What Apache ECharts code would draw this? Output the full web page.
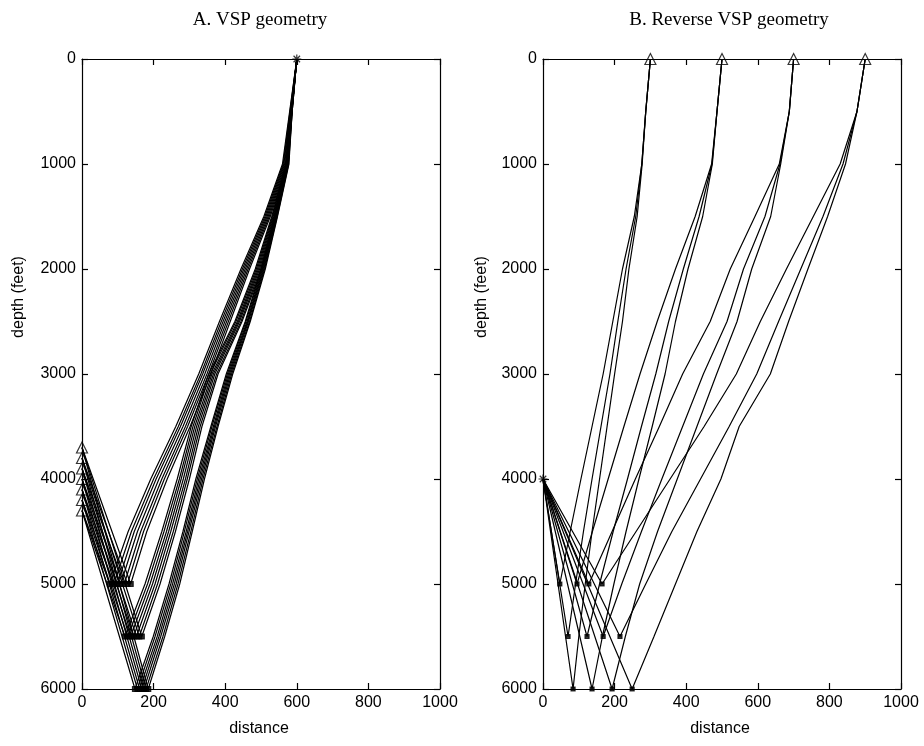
<!DOCTYPE html>
<html>
<head>
<meta charset="utf-8">
<script src="https://cdn.jsdelivr.net/npm/echarts@6/dist/echarts.min.js"></script>
<style>html,body{margin:0;padding:0;background:#fff}#c{width:924px;height:746px}</style>
</head>
<body>
<div id="c"></div>
<script>
// ---------- data ----------
const depthNodes = [0, 500, 1000, 1500, 2000, 2500, 3000, 3500, 4000, 4500, 5000, 5500, 6000];
const xTicks = [0, 200, 400, 600, 800, 1000];
const yTicks = [0, 1000, 2000, 3000, 4000, 5000, 6000];

// Panel A: VSP geometry (surface source, downhole receivers)
const aSourceX = 600;
const aRecvDepths = [3700, 3800, 3900, 4000, 4100, 4200, 4300];
// downgoing ray x at depthNodes, last value = reflection point
const aDown5000 = [
  [600, 586, 572, 526, 468, 414, 360, 302, 238, 181, 136],
  [600, 585, 570, 523, 464, 409, 354, 295, 230, 172, 127],
  [600, 584, 568, 520, 460, 404, 349, 289, 223, 164, 118],
  [600, 583, 566, 517, 456, 399, 343, 282, 215, 155, 108],
  [600, 582, 564, 514, 452, 394, 337, 275, 207, 146, 99],
  [600, 581, 562, 511, 448, 389, 332, 269, 200, 138, 89],
  [600, 580, 560, 508, 444, 384, 326, 262, 192, 129, 78]
];
const aDown5500 = [
  [600, 587, 576, 542, 502, 447, 380, 335, 300, 261, 218, 167],
  [600, 586, 575, 540, 499, 444, 376, 330, 294, 255, 211, 160],
  [600, 586, 574, 538, 496, 440, 371, 325, 289, 248, 204, 152],
  [600, 585, 573, 536, 493, 437, 367, 320, 283, 242, 197, 144],
  [600, 584, 572, 534, 490, 434, 363, 315, 277, 236, 190, 136],
  [600, 584, 571, 532, 487, 430, 358, 310, 272, 229, 183, 128],
  [600, 583, 570, 530, 484, 427, 354, 305, 266, 223, 176, 120]
];
const aDown6000 = [
  [600, 587, 578, 546, 512, 470, 421, 380, 342, 308, 273, 231, 185],
  [600, 587, 577, 545, 510, 468, 418, 377, 338, 304, 268, 226, 179],
  [600, 586, 576, 543, 508, 465, 415, 373, 334, 299, 263, 220, 173],
  [600, 586, 575, 542, 506, 463, 412, 370, 330, 295, 258, 215, 167],
  [600, 586, 574, 541, 504, 461, 409, 367, 326, 291, 253, 210, 161],
  [600, 585, 573, 539, 502, 458, 406, 363, 322, 286, 248, 204, 155],
  [600, 585, 572, 538, 500, 456, 403, 360, 318, 282, 243, 199, 148]
];

// Panel B: Reverse VSP geometry (surface sources, downhole receiver)
const bSourceX = [300, 500, 700, 900];
const bRecvDepth = 4000;
const bDown5000 = [
  [300, 287, 276, 255, 222, 195, 168, 137, 106, 76, 47],
  [500, 486, 471, 425, 370, 319, 271, 226, 182, 138, 95],
  [700, 688, 660, 592, 523, 467, 390, 325, 258, 193, 128],
  [900, 877, 830, 755, 680, 607, 540, 450, 355, 260, 165]
];
const bDown5500 = [
  [300, 287, 276, 259, 232, 209, 187, 162, 137, 113, 91, 70],
  [500, 486, 472, 436, 392, 351, 315, 275, 236, 196, 158, 123],
  [700, 688, 662, 620, 560, 514, 448, 390, 332, 275, 220, 168],
  [900, 877, 838, 782, 720, 658, 597, 520, 440, 360, 287, 215]
];
const bDown6000 = [
  [300, 287, 277, 263, 240, 222, 200, 179, 158, 137, 118, 100, 84],
  [500, 486, 473, 446, 405, 370, 341, 305, 268, 232, 198, 166, 137],
  [700, 688, 664, 636, 583, 542, 485, 430, 375, 320, 270, 230, 193],
  [900, 877, 845, 795, 740, 686, 635, 548, 497, 430, 370, 310, 249]
];

// ---------- build ----------
const series = [];
const lineStyle = { color: '#000', width: 1.2 };
function addRay(xi, yi, down, recvX, recvD) {
  const pts = down.map((x, k) => [x, depthNodes[k]]);
  pts.push([recvX, recvD]);
  series.push({ type: 'line', xAxisIndex: xi, yAxisIndex: yi, data: pts, symbol: 'none',
    lineStyle: lineStyle, silent: true, animation: false, z: 2 });
}
const aRefl = [], bRefl = [];
[aDown5000, aDown5500, aDown6000].forEach(group => {
  group.forEach((row, i) => {
    addRay(0, 0, row, 0, aRecvDepths[i]);
    aRefl.push([row[row.length - 1], depthNodes[row.length - 1]]);
  });
});
[bDown5000, bDown5500, bDown6000].forEach(group => {
  group.forEach(row => {
    addRay(2, 2, row, 0, bRecvDepth);
    bRefl.push([row[row.length - 1], depthNodes[row.length - 1]]);
  });
});
const star = 'path://M0,-5L0,5M-5,0L5,0M-3.6,-3.6L3.6,3.6M-3.6,3.6L3.6,-3.6';
function scatter(xi, yi, data, symbol, size, fill) {
  series.push({ type: 'scatter', xAxisIndex: xi, yAxisIndex: yi, data: data, symbol: symbol,
    symbolSize: size, clip: false, silent: true, animation: false, z: 5,
    itemStyle: { color: fill, borderColor: '#000', borderWidth: 1.2 } });
}
scatter(0, 0, aRefl, 'rect', 5, '#000');
scatter(2, 2, bRefl, 'rect', 4, '#000');
scatter(0, 0, aRecvDepths.map(d => [0, d]), 'triangle', 11, 'rgba(255,255,255,0)');
scatter(0, 0, [[aSourceX, 0]], star, 9, 'rgba(0,0,0,0)');
scatter(2, 2, bSourceX.map(x => [x, 0]), 'triangle', 11, 'rgba(255,255,255,0)');
scatter(2, 2, [[0, bRecvDepth]], star, 9, 'rgba(0,0,0,0)');

const sans = 'Liberation Sans, Arial, sans-serif';
const font = { fontFamily: sans, fontSize: 16, color: '#000' };
function xAx(grid, pos, labels) {
  return { type: 'value', gridIndex: grid, position: pos, min: 0, max: 1000, interval: 200,
    axisLine: { show: true, onZero: false, lineStyle: { color: '#000', width: 1.2 } },
    axisTick: { show: true, inside: true, length: 6, lineStyle: { color: '#000', width: 1.2 } },
    axisLabel: { show: labels, margin: 6, formatter: v => (xTicks.includes(v) ? String(v) : ''), ...font },
    splitLine: { show: false } };
}
function yAx(grid, pos, labels) {
  return { type: 'value', gridIndex: grid, position: pos, min: 0, max: 6000, interval: 1000, inverse: true,
    axisLine: { show: true, onZero: false, lineStyle: { color: '#000', width: 1.2 } },
    axisTick: { show: true, inside: true, length: 6, lineStyle: { color: '#000', width: 1.2 } },
    axisLabel: { show: labels, margin: 6, formatter: v => (yTicks.includes(v) ? String(v) : ''), ...font },
    splitLine: { show: false } };
}
const titleFont = '19px Liberation Serif, Times New Roman, serif';
const nameFont = '16px ' + sans;
const chart = echarts.init(document.getElementById('c'), null, { renderer: 'canvas' });
chart.setOption({
  backgroundColor: '#fff',
  animation: false,
  grid: [
    { left: 82, right: 484, top: 59, bottom: 57 },
    { left: 543, right: 23, top: 59, bottom: 57 }
  ],
  xAxis: [xAx(0, 'bottom', true), xAx(0, 'top', false), xAx(1, 'bottom', true), xAx(1, 'top', false)],
  yAxis: [yAx(0, 'left', true), yAx(0, 'right', false), yAx(1, 'left', true), yAx(1, 'right', false)],
  graphic: [
    { type: 'text', x: 260, y: 20, style: { text: 'A. VSP geometry', textAlign: 'center', textVerticalAlign: 'middle', font: titleFont, fill: '#000' } },
    { type: 'text', x: 729, y: 20, style: { text: 'B. Reverse VSP geometry', textAlign: 'center', textVerticalAlign: 'middle', font: titleFont, fill: '#000' } },
    { type: 'text', x: 259, y: 729, style: { text: 'distance', textAlign: 'center', textVerticalAlign: 'middle', font: nameFont, fill: '#000' } },
    { type: 'text', x: 720, y: 729, style: { text: 'distance', textAlign: 'center', textVerticalAlign: 'middle', font: nameFont, fill: '#000' } },
    { type: 'text', rotation: Math.PI / 2, x: 19, y: 297, style: { text: 'depth (feet)', textAlign: 'center', textVerticalAlign: 'middle', font: nameFont, fill: '#000' } },
    { type: 'text', rotation: Math.PI / 2, x: 482, y: 297, style: { text: 'depth (feet)', textAlign: 'center', textVerticalAlign: 'middle', font: nameFont, fill: '#000' } }
  ],
  series: series
});
</script>
</body>
</html>
